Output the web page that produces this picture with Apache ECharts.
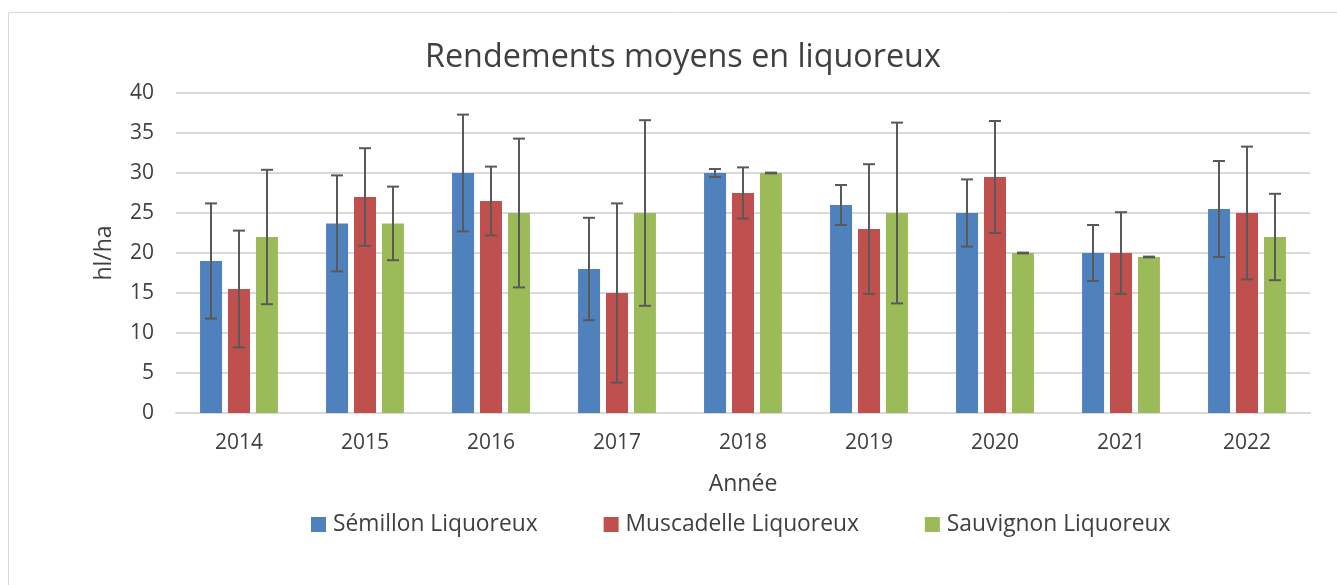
<!doctype html>
<html lang="fr">
<head>
  <meta charset="utf-8">
  <title>Rendements moyens en liquoreux</title>
  <script src="https://cdn.jsdelivr.net/npm/echarts@6/dist/echarts.min.js"></script>
  <style>
    html, body { margin: 0; padding: 0; background: #ffffff; }
    #chart { width: 1337px; height: 585px; }
  </style>
</head>
<body>
  <div id="chart"></div>
  <script type="text/javascript">
    // data
    const years = ['2014', '2015', '2016', '2017', '2018', '2019', '2020', '2021', '2022'];
    const seriesNames = ['Sémillon Liquoreux', 'Muscadelle Liquoreux', 'Sauvignon Liquoreux'];
    const semillon   = [19, 23.7, 30, 18, 30, 26, 25, 20, 25.5];
    const muscadelle = [15.5, 27, 26.5, 15, 27.5, 23, 29.5, 20, 25];
    const sauvignon  = [22, 23.7, 25, 25, 30, 25, 20, 19.5, 22];
    // error bar half widths
    const semillonErr   = [7.2, 6, 7.3, 6.4, 0.5, 2.5, 4.2, 3.5, 6];
    const muscadelleErr = [7.3, 6.1, 4.3, 11.2, 3.2, 8.1, 7, 5.1, 8.3];
    const sauvignonErr  = [8.4, 4.6, 9.3, 11.6, 0.05, 11.3, 0.05, 0.05, 5.4];

    const colors = ['#4F81BD', '#C0504D', '#9BBB59'];
    const values = [semillon, muscadelle, sauvignon];
    const errors = [semillonErr, muscadelleErr, sauvignonErr];
    const font = '"Open Sans", sans-serif';
    const barW = 22;
    const step = 28; // bar width + gap

    const errorSeries = (k) => ({
      type: 'custom',
      name: seriesNames[k] + ' err',
      z: 10,
      encode: { x: 0, y: [1, 2] },
      data: values[k].map((v, i) => [i, v - errors[k][i], v + errors[k][i]]),
      renderItem: (params, api) => {
        const lo = api.coord([api.value(0), api.value(1)]);
        const hi = api.coord([api.value(0), api.value(2)]);
        const x = lo[0] + (k - 1) * step;
        const style = { stroke: '#595959', lineWidth: 2 };
        return {
          type: 'group',
          children: [
            { type: 'line', shape: { x1: x, y1: lo[1], x2: x, y2: hi[1] }, style },
            { type: 'line', shape: { x1: x - 6, y1: lo[1], x2: x + 6, y2: lo[1] }, style },
            { type: 'line', shape: { x1: x - 6, y1: hi[1], x2: x + 6, y2: hi[1] }, style }
          ]
        };
      }
    });

    let option = {
      animation: false,
      backgroundColor: '#ffffff',
      graphic: [{
        type: 'rect',
        shape: { x: 8.5, y: 12.5, width: 1400, height: 700 },
        style: { fill: 'none', stroke: '#d9d9d9', lineWidth: 1 },
        silent: true
      }],
      title: {
        text: 'Rendements moyens en liquoreux',
        left: 420,
        top: 37,
        textStyle: { color: '#404040', fontSize: 32.3, fontWeight: 'normal', fontFamily: font }
      },
      legend: {
        data: seriesNames,
        bottom: 44,
        left: 306,
        itemWidth: 15,
        itemHeight: 15,
        itemGap: 66,
        icon: 'rect',
        textStyle: { color: '#404040', fontSize: 22.8, fontFamily: font, padding: [0, 0, 0, 2] }
      },
      grid: { left: 176, right: 27, top: 93, bottom: 172 },
      xAxis: {
        type: 'category',
        data: years,
        name: 'Année',
        nameLocation: 'middle',
        nameGap: 60,
        nameTextStyle: { color: '#404040', fontSize: 23, fontFamily: font },
        axisLine: { lineStyle: { color: '#d9d9d9', width: 2 } },
        axisTick: { show: false },
        axisLabel: { color: '#404040', fontSize: 21, fontFamily: font, margin: 20 }
      },
      yAxis: {
        type: 'value',
        min: 0,
        max: 40,
        interval: 5,
        name: 'hl/ha',
        nameLocation: 'middle',
        nameGap: 60,
        nameTextStyle: { color: '#404040', fontSize: 23, fontFamily: font },
        axisLine: { show: false },
        axisTick: { show: false },
        splitLine: { lineStyle: { color: '#d9d9d9', width: 2 } },
        axisLabel: { color: '#404040', fontSize: 21, fontFamily: font, margin: 22 }
      },
      series: [0, 1, 2].map((k) => ({
        type: 'bar',
        name: seriesNames[k],
        data: values[k],
        barWidth: barW,
        barGap: '27%',
        itemStyle: { color: colors[k] }
      })).concat([0, 1, 2].map(errorSeries))
    };

    let chart = echarts.init(document.getElementById('chart'));
    chart.setOption(option);
  </script>
</body>
</html>
